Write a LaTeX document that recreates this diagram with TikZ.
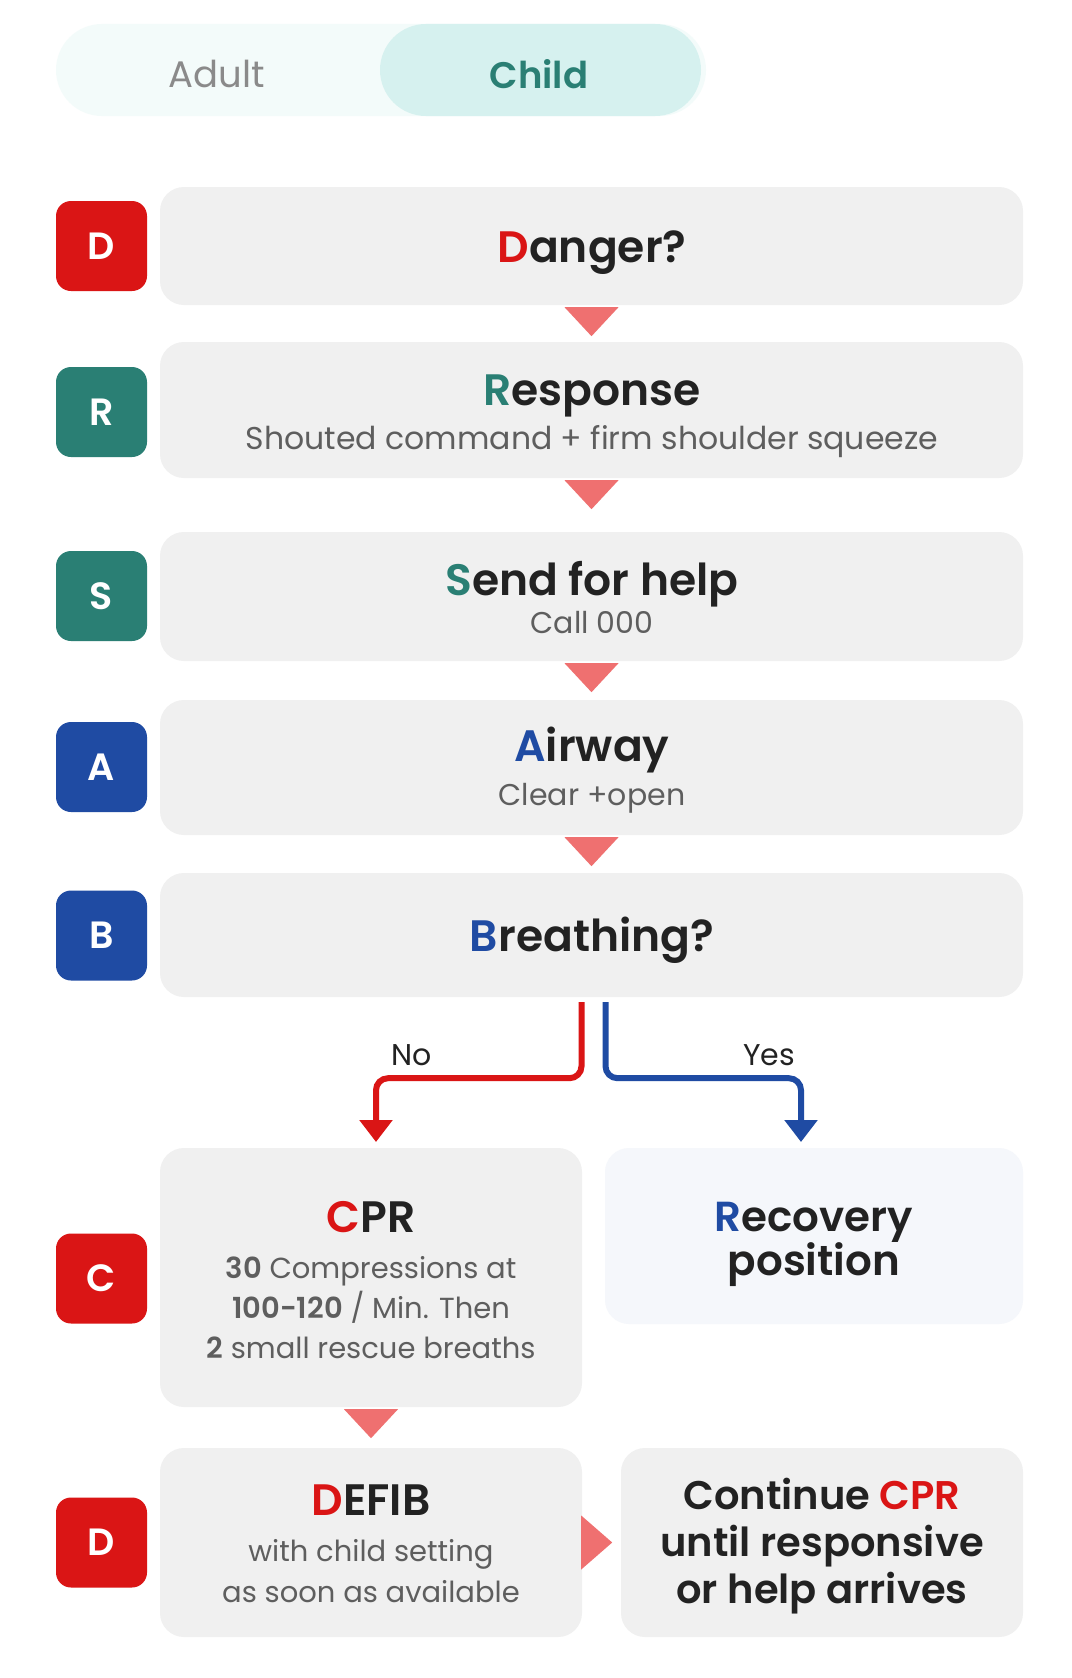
\documentclass[tikz,border=0pt]{standalone}
\usepackage{fontspec}
\setmainfont{Poppins}[BoldFont={Poppins SemiBold}]
\usetikzlibrary{calc,arrows.meta}
\definecolor{cred}{HTML}{DA1515}
\definecolor{cteal}{HTML}{2A7F74}
\definecolor{cblue}{HTML}{1F4BA3}
\definecolor{cbox}{HTML}{F0F0F0}
\definecolor{crec}{HTML}{F5F7FB}
\definecolor{ctri}{HTML}{EF7070}
\definecolor{ctog}{HTML}{F3FBFA}
\definecolor{cpill}{HTML}{D6F1EF}
\definecolor{ctitle}{HTML}{222222}
\definecolor{csub}{HTML}{5E5E5E}
\definecolor{cadult}{HTML}{8A8A8A}
\begin{document}
\begin{tikzpicture}[x=1pt,y=-1pt,
  box/.style={fill=cbox,rounded corners=24pt,inner sep=0pt},
  badge/.style={rounded corners=15pt,minimum width=91pt,minimum height=90pt,inner sep=0pt,text=white,font=\fontsize{38}{40}\selectfont\bfseries},
  ttl/.style={text=ctitle,font=\fontsize{44}{50}\selectfont\bfseries,inner sep=0pt},
  sub/.style={text=csub,font=\fontsize{30}{36}\selectfont,inner sep=0pt},
  body/.style={text=csub,align=center,font=\fontsize{29}{40}\selectfont,inner sep=0pt},
  big/.style={text=ctitle,align=center,font=\fontsize{40}{46}\selectfont\bfseries,inner sep=0pt},
  tri/.style={fill=ctri},
  flow/.style={line width=6pt,rounded corners=12pt,-{Triangle[width=32pt,length=22pt]}},
  lbl/.style={text=ctitle,font=\fontsize{30}{34}\selectfont,inner sep=0pt}
]
\useasboundingbox[fill=white] (0,0) rectangle (1071,1678);

% toggle
\node[fill=ctog,rounded corners=46pt,minimum width=650pt,minimum height=92pt,inner sep=0pt] (toggle) at (381,70) {};
\node[fill=cpill,rounded corners=46pt,minimum width=321pt,minimum height=92pt,inner sep=0pt] (pill) at (540.5,70) {};
\node[text=cadult,font=\fontsize{37}{40}\selectfont,inner sep=0pt] (adult) at (217,74) {Adult};
\node[text=cteal,font=\fontsize{37}{40}\selectfont\bfseries,inner sep=0pt] (child) at (539,74) {Child};

% main boxes
\node[box,minimum width=863pt,minimum height=118pt] (danger) at (591.5,246) {};
\node[box,minimum width=863pt,minimum height=136pt] (resp) at (591.5,410) {};
\node[box,minimum width=863pt,minimum height=129pt] (send) at (591.5,596.5) {};
\node[box,minimum width=863pt,minimum height=135pt] (air) at (591.5,767.5) {};
\node[box,minimum width=863pt,minimum height=124pt] (breath) at (591.5,935) {};
\node[box,minimum width=422pt,minimum height=259pt] (cpr) at (371,1277.5) {};
\node[box,fill=crec,minimum width=418pt,minimum height=176pt] (recov) at (814,1236) {};
\node[box,minimum width=422pt,minimum height=189pt] (defib) at (371,1542.5) {};
\node[box,minimum width=402pt,minimum height=189pt] (cont) at (822,1542.5) {};

% badges
\node[badge,fill=cred] (bD) at (101.5,246) {D};
\node[badge,fill=cteal] (bR) at (101.5,412) {R};
\node[badge,fill=cteal] (bS) at (101.5,596) {S};
\node[badge,fill=cblue] (bA) at (101.5,767) {A};
\node[badge,fill=cblue] (bB) at (101.5,935.5) {B};
\node[badge,fill=cred] (bC) at (101.5,1278.5) {C};
\node[badge,fill=cred] (bD2) at (101.5,1542.5) {D};

% texts
\node[ttl] (tDanger) at (592,252.5) {\textcolor{cred}{D}anger?};
\node[ttl] (tResp) at (592,396) {\textcolor{cteal}{R}esponse};
\node[sub,font=\fontsize{31.5}{36}\selectfont] (sResp) at (592,442) {Shouted command + firm shoulder squeeze};
\node[ttl] (tSend) at (592,584.5) {\textcolor{cteal}{S}end for help};
\node[sub] (sSend) at (592,622.5) {Call 000};
\node[ttl] (tAir) at (592,750.5) {\textcolor{cblue}{A}irway};
\node[sub] (sAir) at (592,798) {Clear +open};
\node[ttl] (tBreath) at (592,940) {\textcolor{cblue}{B}reathing?};

\node[ttl] (tCPR) at (371,1217) {\textcolor{cred}{C}PR};
\node[body] (sCPR) at (371,1308) {\textbf{30} Compressions at\\\textbf{100-120} / Min. Then\\\textbf{2} small rescue breaths};
\node[big,font=\fontsize{42}{44}\selectfont\bfseries] (tRecov) at (814,1244) {\textcolor{cblue}{R}ecovery\\position};
\node[ttl] (tDefib) at (371,1500) {\textcolor{cred}{D}EFIB};
\node[body,font=\fontsize{29}{41}\selectfont] (sDefib) at (371,1571.5) {with child setting\\as soon as available};
\node[big,font=\fontsize{40}{47}\selectfont\bfseries] (tCont) at (822,1546) {Continue \textcolor{cred}{CPR}\\until responsive\\or help arrives};

% triangles
\foreach \a in {danger,resp,send,air,cpr}{
  \fill[tri] ($(\a.south)+(-27,2)$) -- ($(\a.south)+(27,2)$) -- ($(\a.south)+(0,31)$) -- cycle;
}
\fill[tri] ($(defib.east)+(-1,-27)$) -- ($(defib.east)+(-1,27)$) -- ($(defib.east)+(30,0)$) -- cycle;

% branches
\coordinate (noEnd) at (376,1142);
\coordinate (yesEnd) at (801,1142);
\draw[flow,cred] ($(breath.south)+(-10,5)$) -- ++(0,76) -| (noEnd);
\draw[flow,cblue] ($(breath.south)+(14,5)$) -- ++(0,76) -| (yesEnd);
\node[lbl] (no) at (412,1055) {No};
\node[lbl] (yes) at (769,1055) {Yes};
\end{tikzpicture}
\end{document}
